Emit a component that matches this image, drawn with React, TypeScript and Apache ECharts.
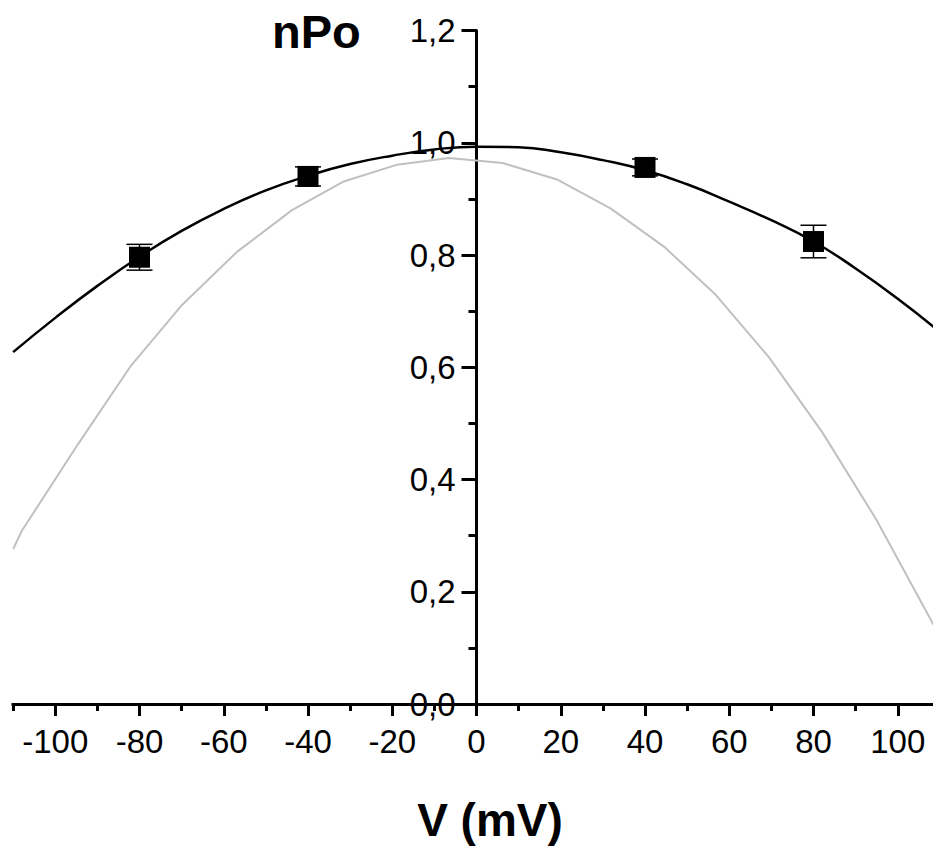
import React, { useEffect, useRef } from "react";
import * as echarts from "echarts";

// Measured points (V in mV, nPo) with error (±)
const pointV = [-80, -40, 40, 80];
const pointP = [0.796, 0.94, 0.956, 0.824];
const pointErr = [0.023, 0.017, 0.015, 0.029];

// Fitted black curve
const fitV = [-110, -100, -90, -80, -70, -60, -50, -40, -30, -20, -10, 0, 10, 20, 30, 40, 50, 60, 70, 80, 90, 100, 110];
const fitP = [0.627, 0.688, 0.745, 0.797, 0.843, 0.882, 0.915, 0.941, 0.962, 0.977, 0.988, 0.993, 0.992, 0.983, 0.969, 0.951, 0.926, 0.895, 0.862, 0.824, 0.776, 0.722, 0.663];

// Grey curve vertices
const greyV = [-110, -107.9, -94.5, -82.2, -69.9, -56.8, -43.8, -31.5, -18.8, -6.6, 6.2, 19.3, 31.8, 44.5, 56.8, 69.4, 82.1, 94.8, 108.2, 110];
const greyP = [0.276, 0.309, 0.464, 0.601, 0.711, 0.806, 0.88, 0.931, 0.961, 0.973, 0.964, 0.934, 0.883, 0.815, 0.729, 0.618, 0.484, 0.33, 0.145, 0.12];

// Axis settings
const xMin = -120;
const xMax = 120;
const xInterval = 20;
const yMin = 0;
const yMax = 1.2;
const yInterval = 0.2;
const xTitle = "V (mV)";
const yTitle = "nPo";

const FONT = '"Liberation Sans", Arial, Helvetica, sans-serif';

export default function App() {
  const ref = useRef<HTMLDivElement>(null);

  useEffect(() => {
    if (!ref.current) return;
    const chart = echarts.init(ref.current, undefined, { renderer: "svg" });

    const gridLeft = -29;
    const gridRight = -49;
    const plotW = 933 - gridLeft - gridRight;
    // pixel distance from grid left edge to x = 0
    const zeroOffset = ((0 - xMin) / (xMax - xMin)) * plotW;

    const option: any = {
      animation: false,
      backgroundColor: "#ffffff",
      grid: {
        left: gridLeft,
        right: gridRight,
        top: 30.5,
        bottom: 143,
        containLabel: false,
        outerBoundsMode: "none",
      },
      xAxis: {
        type: "value",
        min: xMin,
        max: xMax,
        interval: xInterval,
        splitLine: { show: false },
        axisLine: { show: true, onZero: false, lineStyle: { color: "#000", width: 3 } },
        axisTick: { show: true, inside: false, length: 12, lineStyle: { color: "#000", width: 3 } },
        minorTick: { show: true, splitNumber: 2, length: 7, lineStyle: { color: "#000", width: 3 } },
        minorSplitLine: { show: false },
        axisLabel: {
          show: true,
          margin: 21,
          color: "#000",
          fontFamily: FONT,
          fontSize: 33,
          formatter: (v: number) => (Math.abs(v) > 110 ? "" : String(v)),
        },
      },
      yAxis: {
        type: "value",
        position: "left",
        offset: -zeroOffset,
        min: yMin,
        max: yMax,
        interval: yInterval,
        splitLine: { show: false },
        axisLine: { show: true, onZero: false, lineStyle: { color: "#000", width: 3 } },
        axisTick: { show: true, inside: false, length: 15, lineStyle: { color: "#000", width: 3 } },
        minorTick: { show: true, splitNumber: 2, length: 8, lineStyle: { color: "#000", width: 3 } },
        minorSplitLine: { show: false },
        axisLabel: {
          show: true,
          margin: 21,
          color: "#000",
          fontFamily: FONT,
          fontSize: 33,
          formatter: (v: number) => v.toFixed(1).replace(".", ","),
        },
      },
      series: [
        {
          type: "line",
          name: "grey",
          data: greyV.map((v, i) => [v, greyP[i]]),
          showSymbol: false,
          smooth: false,
          lineStyle: { color: "#c0c0c0", width: 2 },
          z: 2,
        },
        {
          type: "line",
          name: "fit",
          data: fitV.map((v, i) => [v, fitP[i]]),
          showSymbol: false,
          smooth: true,
          lineStyle: { color: "#000", width: 2.5 },
          z: 3,
        },
        {
          type: "custom",
          name: "err",
          data: pointV.map((v, i) => [v, pointP[i], pointErr[i]]),
          encode: { x: 0, y: 1 },
          z: 4,
          renderItem: (params: any, api: any) => {
            const x = api.value(0);
            const y = api.value(1);
            const e = api.value(2);
            const top = api.coord([x, y + e]);
            const bot = api.coord([x, y - e]);
            const hw = 13;
            const st = { stroke: "#000", lineWidth: 1.5 };
            return {
              type: "group",
              children: [
                { type: "line", shape: { x1: top[0], y1: top[1], x2: bot[0], y2: bot[1] }, style: st },
                { type: "line", shape: { x1: top[0] - hw, y1: top[1], x2: top[0] + hw, y2: top[1] }, style: st },
                { type: "line", shape: { x1: bot[0] - hw, y1: bot[1], x2: bot[0] + hw, y2: bot[1] }, style: st },
              ],
            };
          },
        },
        {
          type: "scatter",
          name: "points",
          data: pointV.map((v, i) => [v, pointP[i]]),
          symbol: "rect",
          symbolSize: 21,
          itemStyle: { color: "#000", opacity: 1 },
          z: 5,
        },
      ],
      graphic: [
        {
          type: "rect",
          left: 0,
          top: 695,
          shape: { x: 0, y: 0, width: 11.5, height: 20 },
          style: { fill: "#ffffff" },
          z: 100,
        },
        {
          type: "text",
          x: 272,
          y: 31,
          style: {
            text: yTitle,
            fill: "#000",
            font: `bold 47px ${FONT}`,
            textAlign: "left",
            textVerticalAlign: "middle",
          },
          z: 100,
        },
        {
          type: "text",
          x: 490,
          y: 820,
          style: {
            text: xTitle,
            fill: "#000",
            font: `bold 46px ${FONT}`,
            textAlign: "center",
            textVerticalAlign: "middle",
          },
          z: 100,
        },
      ],
    };

    chart.setOption(option);
    return () => chart.dispose();
  }, []);

  return (
    <div style={{ position: "fixed", left: 0, top: 0, width: 933, height: 847, overflow: "hidden", background: "#fff" }}>
      <div ref={ref} style={{ width: 933, height: 847 }} />
    </div>
  );
}
